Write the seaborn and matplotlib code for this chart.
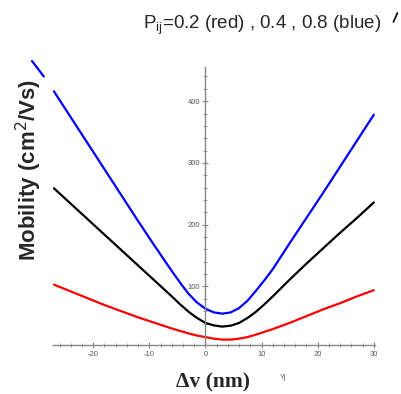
import numpy as np
import pandas as pd
import matplotlib
matplotlib.use("Agg")
import matplotlib.pyplot as plt
from matplotlib.lines import Line2D
from matplotlib.ticker import MultipleLocator
import seaborn as sns

# значения
dv = [-27, -24, -21, -18, -15, -12, -9, -6, -4.5, -3, -1.5, 0, 1.5, 3, 4.5, 6, 7.5, 9, 10.5, 12,
      15, 18, 21, 24, 27, 30]
mob_blue = [416, 374, 332, 290, 248, 206, 165, 125, 106, 88, 74, 64, 58, 56, 58, 65, 77, 93, 110, 128,
            170, 211, 252, 294, 336, 378]
mob_black = [259, 234, 209, 184, 159, 134, 109, 84, 71, 59, 49, 41, 37, 35, 36.5, 41, 49, 59, 71, 84,
             111, 137, 162, 187, 211, 236]
mob_red = [103, 92, 81, 70, 60, 50, 41, 32, 28, 24, 20.5, 18, 15.5, 14, 14, 15.5, 18, 22, 26.5, 31,
           41, 52, 63, 73, 84, 94]
# обрывок синей линии над осью слева
tail_x = [-30.9, -28.8]
tail_y = [465, 440]

xticks = [-20, -10, 0, 10, 20, 30]
yticks = [100, 200, 300, 400]

sns.set_style("white")
plt.rcParams['font.family'] = ['Liberation Sans', 'DejaVu Sans']

df = pd.DataFrame({'dv': dv * 3,
                   'mob': mob_red + mob_black + mob_blue,
                   'P': ['0.2'] * len(dv) + ['0.4'] * len(dv) + ['0.8'] * len(dv)})

fig = plt.figure(figsize=(4.01, 3.94), dpi=100)
ax = fig.add_axes([0.133, 0.124, 0.802, 0.707])

sns.lineplot(data=df, x='dv', y='mob', hue='P', palette={'0.2': '#ff0000', '0.4': '#000000', '0.8': '#0000ff'},
             linewidth=1.6, legend=False, ax=ax)
ax.plot(tail_x, tail_y, color='#0000ff', linewidth=1.6, clip_on=False)

ax.set_xlim(-27.1, 30.2)
ax.set_ylim(5, 456)

# оси как в Maple: вертикальная через ноль
for s in ['top', 'right']:
    ax.spines[s].set_visible(False)
ax.spines['left'].set_position(('data', 0))
ax.spines['left'].set_color('#888888')
ax.spines['bottom'].set_color('#888888')
ax.spines['left'].set_linewidth(1.0)
ax.spines['bottom'].set_linewidth(1.0)

ax.set_xticks(xticks)
ax.set_yticks(yticks)
ax.xaxis.set_minor_locator(MultipleLocator(2))
ax.yaxis.set_minor_locator(MultipleLocator(20))
ax.tick_params(which='both', direction='inout', color='#888888', labelsize=5.5, labelcolor='#555555',
               bottom=True, left=True, pad=2)
ax.tick_params(which='major', length=4, width=0.8)
ax.tick_params(which='minor', length=2.5, width=0.6)
ax.set_xticklabels([str(t) for t in xticks])
ax.set_yticklabels([str(t) for t in yticks])

ax.set_xlabel('')
ax.set_ylabel('')

fig.text(0.072, 0.569, 'Mobility (cm$^2$/Vs)', rotation=90, ha='center', va='center',
         fontsize=16, fontweight='bold')
fig.text(0.532, 0.028, '\u0394v (nm)', ha='center', va='center', fontsize=15.5, fontweight='bold',
         family=['Liberation Serif', 'DejaVu Serif'])
fig.text(0.705, 0.042, 'Yj', ha='center', va='center', fontsize=5, color='#555555')
fig.text(0.357, 0.937, 'P$_{\\mathregular{ij}}$=0.2 (red) , 0.4 , 0.8 (blue)', ha='left', va='center',
         fontsize=13.5)
fig.add_artist(Line2D([0.981, 0.991], [0.944, 0.967], color='black', linewidth=1.2))

fig.savefig('out.png', dpi=100)
